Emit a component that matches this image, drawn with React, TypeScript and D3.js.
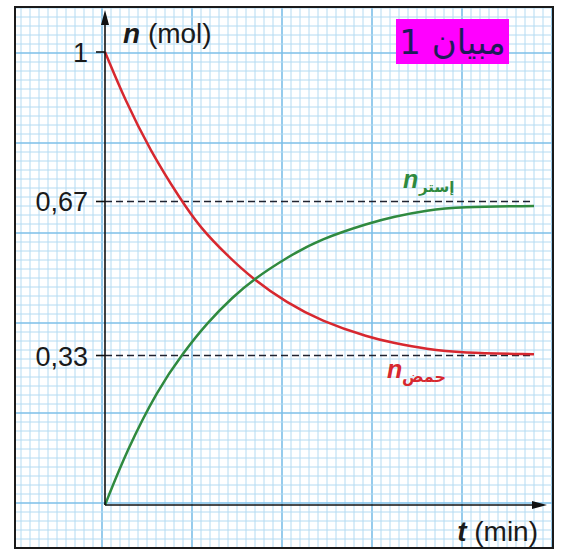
import React from 'react';
import * as d3 from 'd3';

// values (t in arbitrary minutes, n in mol)
const acidT = [0, 2.1, 4.7, 7.9, 10, 12.8, 15.5, 19.1, 22.6, 27.8, 30.2, 33.8, 37.2, 45];
const acidN = [1, 0.894, 0.784, 0.675, 0.612, 0.551, 0.499, 0.446, 0.407, 0.369, 0.358, 0.344, 0.336, 0.333];

const esterT = [0, 2.3, 5.5, 8.2, 10.7, 13.4, 15.5, 19.1, 22.6, 27.8, 30.2, 33.8, 37.2, 45];
const esterN = [0, 0.121, 0.254, 0.336, 0.402, 0.459, 0.497, 0.547, 0.587, 0.623, 0.636, 0.651, 0.658, 0.66];

const yTicks = [1, 0.67, 0.33];
const yTickLabels = ['1', '0,67', '0,33'];
const limits = [0.67, 0.33];

const W = 564;
const H = 553;
const frame = { left: 15, top: 7, right: 553, bottom: 548 };

const xScale = d3.scaleLinear().domain([0, 45]).range([105, 534]);
const yScale = d3.scaleLinear().domain([0, 1]).range([505, 52]);

const line = d3
  .line<[number, number]>()
  .x(d => xScale(d[0]))
  .y(d => yScale(d[1]))
  .curve(d3.curveBasis);

const acidPath = line(acidT.map((t, i) => [t, acidN[i]]));
const esterPath = line(esterT.map((t, i) => [t, esterN[i]]));

// graph paper: 9px cells, heavier line every 10 cells
const vLines = d3.range(3, frame.right, 9);
const hLines = d3.range(8, frame.bottom, 9);

const latin = '"Liberation Sans", Arial, sans-serif';
const arabic = '"DejaVu Sans", sans-serif';
const red = '#d7282f';
const green = '#2f8a3f';

export default function App() {
  const x0 = xScale(0);
  const y0 = yScale(0);
  const axisEnd = 547;
  const axisTop = 10;

  return (
    <svg
      width={W}
      height={H}
      viewBox={`0 0 ${W} ${H}`}
      style={{ position: 'absolute', left: 0, top: 0, background: '#fff' }}
    >
      <defs>
        <clipPath id="paper">
          <rect x={frame.left} y={frame.top} width={frame.right - frame.left} height={frame.bottom - frame.top} />
        </clipPath>
      </defs>

      {/* Grid */}
      <g clipPath="url(#paper)">
        {vLines.map((x, i) => (
          <line
            key={`v-${i}`}
            x1={x}
            x2={x}
            y1={frame.top}
            y2={frame.bottom}
            stroke={(x - 12) % 90 === 0 ? '#7dbfe8' : '#b4dbf2'}
            strokeWidth={(x - 12) % 90 === 0 ? 1.6 : 1}
          />
        ))}
        {hLines.map((y, i) => (
          <line
            key={`h-${i}`}
            x1={frame.left}
            x2={frame.right}
            y1={y}
            y2={y}
            stroke={(y - 53) % 90 === 0 ? '#7dbfe8' : '#b4dbf2'}
            strokeWidth={(y - 53) % 90 === 0 ? 1.6 : 1}
          />
        ))}
      </g>

      <rect
        x={frame.left}
        y={frame.top}
        width={frame.right - frame.left}
        height={frame.bottom - frame.top}
        fill="none"
        stroke="#1a1a1a"
        strokeWidth={2}
      />

      {/* Dashed limits */}
      {limits.map(v => (
        <line
          key={`lim-${v}`}
          x1={x0}
          x2={xScale(45)}
          y1={yScale(v)}
          y2={yScale(v)}
          stroke="#1f2330"
          strokeWidth={1.5}
          strokeDasharray="7,4"
        />
      ))}

      {/* Curves */}
      <path d={acidPath ?? ''} fill="none" stroke={red} strokeWidth={2.5} />
      <path d={esterPath ?? ''} fill="none" stroke={green} strokeWidth={2.5} />

      {/* Axes */}
      <line x1={x0} x2={x0} y1={y0} y2={axisTop + 12} stroke="#111" strokeWidth={1.6} />
      <path d={`M${x0},${axisTop} L${x0 - 4},${axisTop + 15} L${x0 + 4},${axisTop + 15} Z`} fill="#111" />
      <line x1={x0} x2={axisEnd - 12} y1={y0} y2={y0} stroke="#111" strokeWidth={1.6} />
      <path d={`M${axisEnd},${y0} L${axisEnd - 15},${y0 - 4} L${axisEnd - 15},${y0 + 4} Z`} fill="#111" />

      {yTicks.map((v, i) => (
        <g key={`yt-${v}`}>
          <line x1={x0 - 9} x2={x0} y1={yScale(v)} y2={yScale(v)} stroke="#111" strokeWidth={1.6} />
          <text
            x={88}
            y={yScale(v) + 10}
            textAnchor="end"
            style={{ fontFamily: latin, fontSize: '27px' }}
            fill="#1a1a1a"
          >
            {yTickLabels[i]}
          </text>
        </g>
      ))}

      {/* Axis titles */}
      <text x={123} y={43} style={{ fontFamily: latin, fontSize: '28px' }} fill="#1a1a1a">
        <tspan fontWeight="bold" fontStyle="italic">n</tspan>
        <tspan> (mol)</tspan>
      </text>
      <text x={538} y={541} textAnchor="end" style={{ fontFamily: latin, fontSize: '28px' }} fill="#1a1a1a">
        <tspan fontWeight="bold" fontStyle="italic">t</tspan>
        <tspan> (min)</tspan>
      </text>

      {/* Series labels */}
      <text x={403} y={188} style={{ fontFamily: latin, fontSize: '25px', fontWeight: 'bold', fontStyle: 'italic' }} fill={green}>
        n
      </text>
      <text x={419} y={192} style={{ fontFamily: arabic, fontSize: '15px', fontWeight: 'bold' }} fill={green}>
        إستر
      </text>
      <text x={387} y={378} style={{ fontFamily: latin, fontSize: '25px', fontWeight: 'bold', fontStyle: 'italic' }} fill={red}>
        n
      </text>
      <text x={402} y={382} style={{ fontFamily: arabic, fontSize: '16px', fontWeight: 'bold' }} fill={red}>
        حمض
      </text>

      {/* Title badge */}
      <rect x={396} y={19} width={113} height={45} fill="#ff00ff" />
      <text
        x={452.5}
        y={54}
        textAnchor="middle"
        direction="rtl"
        style={{ fontFamily: arabic, fontSize: '34px' }}
        fill="#1c1c5a"
      >
        مبيان 1
      </text>
    </svg>
  );
}
